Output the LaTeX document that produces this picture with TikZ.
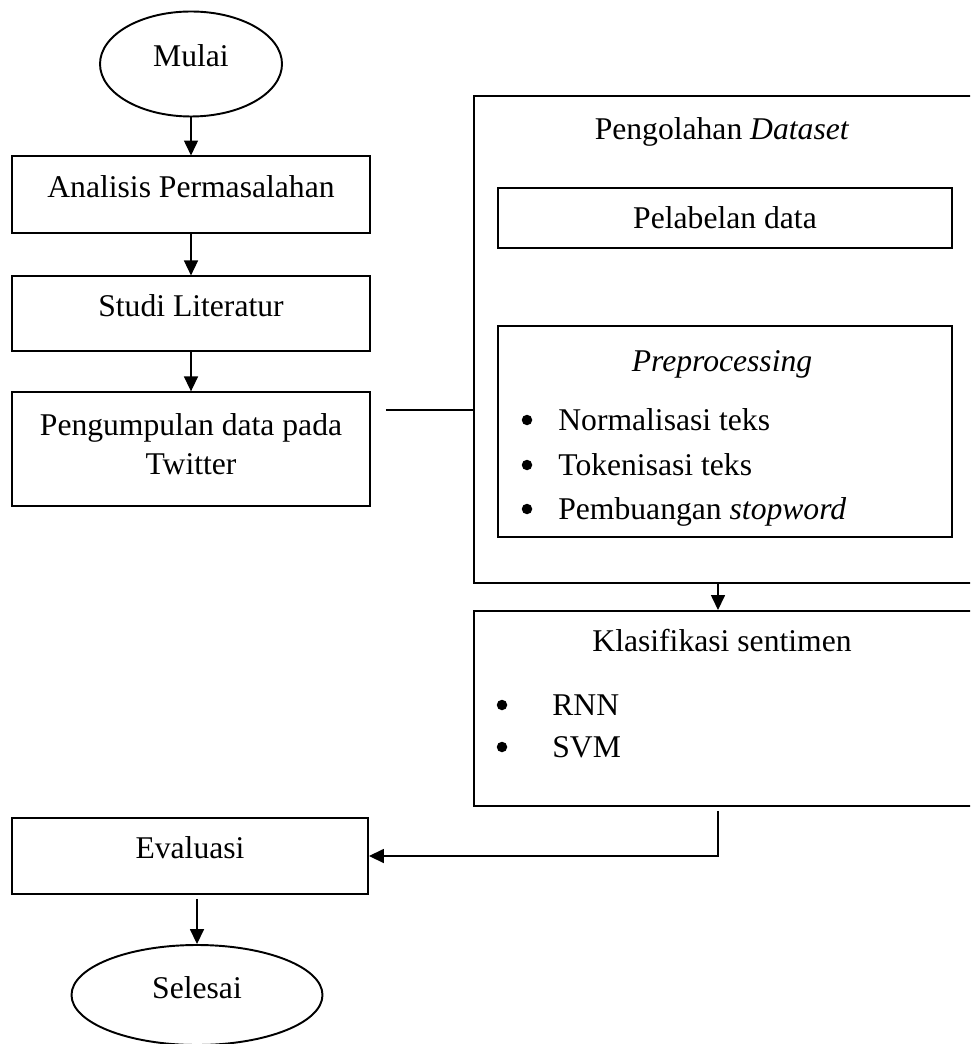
\documentclass[tikz,border=0pt]{standalone}
\usepackage{fontspec}
\setmainfont{Liberation Serif}
\usetikzlibrary{arrows.meta,positioning,calc,shapes.geometric}
\tikzset{
  term/.style={ellipse,draw=black,line width=1.1pt,inner sep=0pt,
               text height=0.7em,text depth=0.42em},
  proc/.style={rectangle,draw=black,line width=1.1pt,minimum width=7.16cm,
               align=center,inner sep=0pt,text height=0.7em,text depth=0.42em},
  panel/.style={rectangle,draw=black,line width=1.1pt,anchor=north west,inner sep=0pt},
  subbox/.style={rectangle,draw=black,line width=1.1pt,minimum width=9.08cm,inner sep=0pt},
  item/.style={anchor=base west,inner sep=0pt},
  dot/.style={circle,fill=black,inner sep=0pt,minimum size=0.21cm},
  flow/.style={-{Triangle[length=8.5pt,width=8pt]},line width=0.7pt},
  link/.style={line width=1pt},
}

\begin{document}
\begin{tikzpicture}[node distance=0.82cm,every node/.style={font=\fontsize{18}{22.5}\selectfont}]
  \useasboundingbox (0,0) rectangle (19.4,-20.88);
  \clip (0,0) rectangle (19.4,-20.88);
  % left column
  \node[term,minimum width=3.64cm,minimum height=2.1cm] (start) at (3.82,-1.28) {Mulai};
  \node[proc,minimum height=1.54cm,below=0.76cm of start] (anal) {Analisis Permasalahan};
  \node[proc,minimum height=1.5cm,below=of anal] (studi) {Studi Literatur};
  \node[proc,minimum height=2.28cm,below=0.78cm of studi,text height=,text depth=0.6em] (pgum) {Pengumpulan data pada\\Twitter};
  \node[proc,minimum width=7.12cm,minimum height=1.52cm] (eval) at (3.8,-17.12) {Evaluasi};
  \node[term,minimum width=5.02cm,minimum height=2cm,text depth=0.25em] (fin) at (3.94,-19.9) {Selesai};
  % dataset panel
  \node[panel,minimum width=10.4cm,minimum height=9.74cm] (dset) at (9.46,-1.9) {};
  \node (dtitle) at (14.44,-2.64) {Pengolahan \textit{Dataset}};
  \node[subbox,minimum height=1.2cm] (label) at (14.5,-4.36) {Pelabelan data};
  \node[subbox,minimum height=4.22cm] (prep) at (14.5,-8.63) {};
  \node (ptitle) at (14.44,-7.28) {\textit{Preprocessing}};
  \node[dot] (b1) at (10.54,-8.4) {};
  \node[item] (t1) at (11.16,-8.6) {Normalisasi teks};
  \node[dot] (b2) at (10.54,-9.3) {};
  \node[item] (t2) at (11.16,-9.5) {Tokenisasi teks};
  \node[dot] (b3) at (10.54,-10.18) {};
  \node[item] (t3) at (11.16,-10.38) {Pembuangan \textit{stopword}};
  % classification panel
  \node[panel,minimum width=10.4cm,minimum height=3.9cm] (klas) at (9.46,-12.2) {};
  \node (ktitle) at (14.44,-12.82) {Klasifikasi sentimen};
  \node[dot] (b4) at (10.04,-14.1) {};
  \node[item] (t4) at (11.04,-14.3) {RNN};
  \node[dot] (b5) at (10.04,-14.94) {};
  \node[item] (t5) at (11.04,-15.14) {SVM};
  % connectors
  \draw[flow] (start) -- (anal);
  \draw[flow] (anal) -- (studi);
  \draw[flow] (studi) -- (pgum);
  \coordinate (tap) at ($(pgum.north east)+(0.3,-0.38)$);
  \draw[link] (tap) -- (tap -| dset.west);
  \coordinate (drop) at (14.36,-11.8);
  \draw[flow] (drop |- dset.south) -- (drop |- klas.north);
  \draw[flow] ($(drop |- klas.south)+(0,-0.08)$) |- (eval.east);
  \draw[flow] ($(eval.south -| fin.north)+(0,-0.08)$) -- (fin.north);
\end{tikzpicture}
\end{document}
